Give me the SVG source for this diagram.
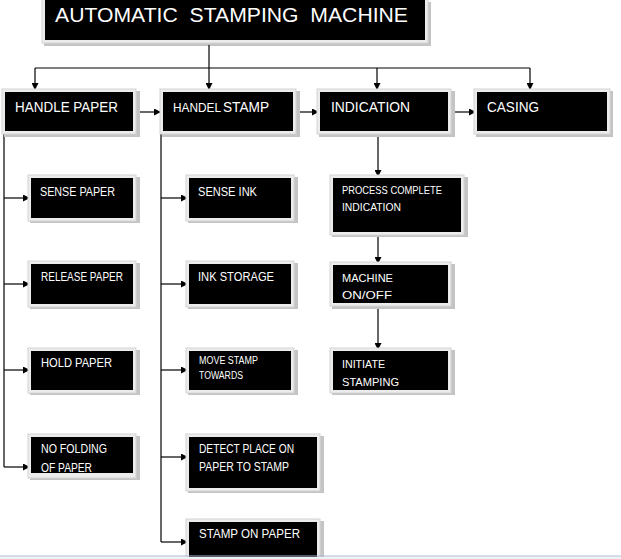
<svg xmlns="http://www.w3.org/2000/svg" width="621" height="559" viewBox="0 0 621 559">
<style>
.fr{fill:#ececec;stroke:#d4d4d4;stroke-width:1}
.sh{fill:#c4c4c4}
.bx{fill:#000}
text{font-family:"Liberation Sans",Arial,sans-serif;fill:#fff}
.l{font-size:14.5px}
.m{font-size:12.5px}
.s{font-size:10px}
.r{font-size:11.5px}
.c{stroke:#000;stroke-width:1.2;fill:none}
</style>
<defs>
<marker id="ah" markerWidth="7" markerHeight="7" refX="7" refY="3.5" orient="auto" markerUnits="userSpaceOnUse">
<path d="M0,0 L7,3.5 L0,7 Z" fill="#000"/>
</marker>
</defs>
<rect width="621" height="559" fill="#fff"/>

<g id="title">
<rect class="sh" x="44" y="2" width="387" height="44"/>
<rect class="fr" x="42" y="-3" width="386" height="46"/>
<rect class="bx" x="45" y="0" width="380" height="40"/>
<text x="55" y="22" style="font-size:20px;white-space:pre" xml:space="preserve" textLength="353" lengthAdjust="spacingAndGlyphs">AUTOMATIC  STAMPING  MACHINE</text>
</g>

<g id="connectors">
<line class="c" x1="35" y1="68" x2="530" y2="68"/>
<line class="c" x1="35" y1="68" x2="35" y2="90" marker-end="url(#ah)"/>
<line class="c" x1="209" y1="45" x2="209" y2="90" marker-end="url(#ah)"/>
<line class="c" x1="377" y1="68" x2="377" y2="90" marker-end="url(#ah)"/>
<line class="c" x1="530" y1="68" x2="530" y2="90" marker-end="url(#ah)"/>
<line class="c" x1="136" y1="112" x2="161" y2="112" marker-end="url(#ah)"/>
<line class="c" x1="296" y1="112" x2="319" y2="112" marker-end="url(#ah)"/>
<line class="c" x1="451" y1="112" x2="476" y2="112" marker-end="url(#ah)"/>
<line class="c" x1="4" y1="134" x2="4" y2="467"/>
<line class="c" x1="4" y1="198" x2="30" y2="198" marker-end="url(#ah)"/>
<line class="c" x1="4" y1="284" x2="30" y2="284" marker-end="url(#ah)"/>
<line class="c" x1="4" y1="370" x2="30" y2="370" marker-end="url(#ah)"/>
<line class="c" x1="4" y1="467" x2="30" y2="467" marker-end="url(#ah)"/>
<line class="c" x1="161" y1="134" x2="161" y2="542"/>
<line class="c" x1="161" y1="198" x2="188" y2="198" marker-end="url(#ah)"/>
<line class="c" x1="161" y1="284" x2="188" y2="284" marker-end="url(#ah)"/>
<line class="c" x1="161" y1="370" x2="188" y2="370" marker-end="url(#ah)"/>
<line class="c" x1="161" y1="457" x2="188" y2="457" marker-end="url(#ah)"/>
<line class="c" x1="161" y1="542" x2="188" y2="542" marker-end="url(#ah)"/>
<line class="c" x1="378" y1="134" x2="378" y2="177" marker-end="url(#ah)"/>
<line class="c" x1="378" y1="235" x2="378" y2="264" marker-end="url(#ah)"/>
<line class="c" x1="378" y1="306" x2="378" y2="350" marker-end="url(#ah)"/>
</g>

<g id="handle-paper">
<rect class="sh" x="4" y="91" width="136" height="46"/>
<rect class="fr" x="2" y="89" width="134" height="45"/>
<rect class="bx" x="5" y="92" width="128" height="39"/>
<text class="l" x="15" y="112" textLength="103" lengthAdjust="spacingAndGlyphs">HANDLE PAPER</text>
</g>

<g id="handel-stamp">
<rect class="sh" x="162" y="91" width="138" height="46"/>
<rect class="fr" x="160" y="89" width="136" height="45"/>
<rect class="bx" x="163" y="92" width="130" height="39"/>
<text x="173" y="112" style="font-size:12px" textLength="48" lengthAdjust="spacingAndGlyphs">HANDEL</text>
<text class="l" x="223" y="112" textLength="46" lengthAdjust="spacingAndGlyphs">STAMP</text>
</g>

<g id="indication">
<rect class="sh" x="319" y="91" width="136" height="46"/>
<rect class="fr" x="317" y="89" width="134" height="45"/>
<rect class="bx" x="320" y="92" width="128" height="39"/>
<text class="l" x="331" y="112" textLength="79" lengthAdjust="spacingAndGlyphs">INDICATION</text>
</g>

<g id="casing">
<rect class="sh" x="476" y="91" width="137" height="46"/>
<rect class="fr" x="474" y="89" width="136" height="45"/>
<rect class="bx" x="477" y="92" width="130" height="39"/>
<text class="l" x="487" y="112" textLength="52" lengthAdjust="spacingAndGlyphs">CASING</text>
</g>

<g id="sense-paper">
<rect class="sh" x="30" y="177" width="110" height="46"/>
<rect class="fr" x="28" y="175" width="108" height="46"/>
<rect class="bx" x="31" y="178" width="102" height="40"/>
<text class="m" x="40" y="196" textLength="75" lengthAdjust="spacingAndGlyphs">SENSE PAPER</text>
</g>

<g id="release-paper">
<rect class="sh" x="30" y="263" width="110" height="46"/>
<rect class="fr" x="28" y="261" width="108" height="46"/>
<rect class="bx" x="31" y="264" width="102" height="40"/>
<text class="m" x="41" y="281" textLength="82" lengthAdjust="spacingAndGlyphs">RELEASE PAPER</text>
</g>

<g id="hold-paper">
<rect class="sh" x="30" y="350" width="110" height="45"/>
<rect class="fr" x="28" y="348" width="108" height="45"/>
<rect class="bx" x="31" y="351" width="102" height="39"/>
<text class="m" x="41" y="367" textLength="71" lengthAdjust="spacingAndGlyphs">HOLD PAPER</text>
</g>

<g id="no-folding">
<rect class="sh" x="30" y="436" width="110" height="44"/>
<rect class="fr" x="28" y="434" width="108" height="44"/>
<rect class="bx" x="31" y="437" width="102" height="36"/>
<text class="m" x="41" y="453" textLength="66" lengthAdjust="spacingAndGlyphs">NO FOLDING</text>
<text class="m" x="41" y="472" textLength="51" lengthAdjust="spacingAndGlyphs">OF PAPER</text>
</g>

<g id="sense-ink">
<rect class="sh" x="188" y="177" width="110" height="46"/>
<rect class="fr" x="186" y="175" width="108" height="46"/>
<rect class="bx" x="189" y="178" width="102" height="40"/>
<text class="m" x="198" y="196" textLength="59" lengthAdjust="spacingAndGlyphs">SENSE INK</text>
</g>

<g id="ink-storage">
<rect class="sh" x="188" y="263" width="110" height="46"/>
<rect class="fr" x="186" y="261" width="108" height="46"/>
<rect class="bx" x="189" y="264" width="102" height="40"/>
<text class="m" x="198" y="281" textLength="76" lengthAdjust="spacingAndGlyphs">INK STORAGE</text>
</g>

<g id="move-stamp">
<rect class="sh" x="188" y="350" width="110" height="45"/>
<rect class="fr" x="186" y="348" width="108" height="45"/>
<rect class="bx" x="189" y="351" width="102" height="39"/>
<text class="s" x="199" y="364" textLength="59" lengthAdjust="spacingAndGlyphs">MOVE STAMP</text>
<text class="s" x="199" y="379" textLength="44" lengthAdjust="spacingAndGlyphs">TOWARDS</text>
</g>

<g id="detect-place">
<rect class="sh" x="188" y="436" width="136" height="57"/>
<rect class="fr" x="186" y="434" width="134" height="57"/>
<rect class="bx" x="189" y="437" width="128" height="51"/>
<text class="m" x="199" y="453" textLength="95" lengthAdjust="spacingAndGlyphs">DETECT PLACE ON</text>
<text class="m" x="199" y="471" textLength="90" lengthAdjust="spacingAndGlyphs">PAPER TO STAMP</text>
</g>

<g id="stamp-on-paper">
<rect class="sh" x="188" y="521" width="136" height="40"/>
<rect class="fr" x="186" y="519" width="134" height="40"/>
<rect class="bx" x="189" y="522" width="128" height="37"/>
<text class="m" x="199" y="538" textLength="101" lengthAdjust="spacingAndGlyphs">STAMP ON PAPER</text>
</g>

<g id="process-complete">
<rect class="sh" x="332" y="177" width="136" height="60"/>
<rect class="fr" x="330" y="175" width="134" height="60"/>
<rect class="bx" x="333" y="178" width="128" height="54"/>
<text class="r" x="342" y="194" textLength="100" lengthAdjust="spacingAndGlyphs">PROCESS COMPLETE</text>
<text class="r" x="342" y="211" textLength="59" lengthAdjust="spacingAndGlyphs">INDICATION</text>
</g>

<g id="machine-onoff">
<rect class="sh" x="332" y="264" width="123" height="45"/>
<rect class="fr" x="330" y="262" width="121" height="44"/>
<rect class="bx" x="333" y="265" width="115" height="38"/>
<text class="r" x="342" y="282" textLength="51" lengthAdjust="spacingAndGlyphs">MACHINE</text>
<text class="r" x="342" y="299" textLength="50" lengthAdjust="spacingAndGlyphs">ON/OFF</text>
</g>

<g id="initiate-stamping">
<rect class="sh" x="332" y="350" width="123" height="45"/>
<rect class="fr" x="330" y="348" width="121" height="45"/>
<rect class="bx" x="333" y="351" width="115" height="39"/>
<text class="r" x="342" y="368" textLength="43" lengthAdjust="spacingAndGlyphs">INITIATE</text>
<text class="r" x="342" y="386" textLength="57" lengthAdjust="spacingAndGlyphs">STAMPING</text>
</g>

<line x1="0" y1="556" x2="621" y2="556" stroke="#a9bad3" stroke-width="1"/>
<rect x="0" y="557" width="621" height="2" fill="#eef1f6"/>
</svg>
